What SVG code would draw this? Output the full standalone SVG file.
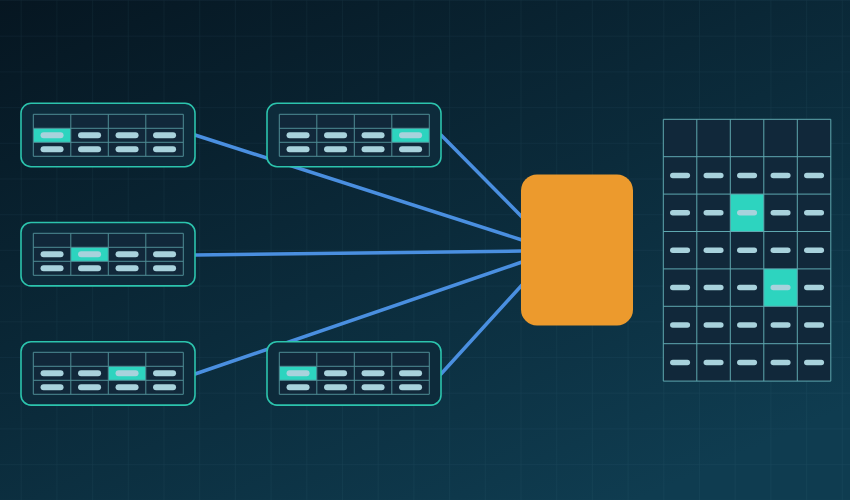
<svg xmlns="http://www.w3.org/2000/svg" xmlns:xlink="http://www.w3.org/1999/xlink" width="850" height="500" viewBox="0 0 850 500">
<style>
.node{fill:#0d2b3b;stroke:#2cc4ad;stroke-width:1.6}
.tbg{fill:#11283a}
.tl{stroke:#4f8c95;stroke-width:1;fill:none}
.pill{fill:#a8d2dc}
.hl{fill:#2dd4bf}
.conn{stroke:#4a8fe0;stroke-width:3.5;stroke-linecap:round;fill:none}
.gl{stroke:#5fa8b0;stroke-width:1;fill:none}
</style>
<defs>
<linearGradient id="bg" x1="0" y1="0" x2="0.75" y2="1">
<stop offset="0" stop-color="#061621"/>
<stop offset="1" stop-color="#0f3c50"/>
</linearGradient>
<pattern id="grid" x="20.7" y="0" width="35.7" height="35.7" patternUnits="userSpaceOnUse">
<path d="M0 0V35.7M0 0H35.7" stroke="#5a9ab0" stroke-opacity="0.12" stroke-width="1" fill="none"/>
</pattern>
<g id="tbg"><rect class="tbg" x="0" y="0" width="150" height="42"/></g>
<g id="tfg">
<path class="tl" d="M0 0H150V42H0ZM0 14H150M0 28H150M37.5 0V42M75 0V42M112.5 0V42"/>
<g class="pill">
<rect x="7.25" y="18" width="23" height="6" rx="3"/><rect x="44.75" y="18" width="23" height="6" rx="3"/><rect x="82.25" y="18" width="23" height="6" rx="3"/><rect x="119.75" y="18" width="23" height="6" rx="3"/>
<rect x="7.25" y="32" width="23" height="6" rx="3"/><rect x="44.75" y="32" width="23" height="6" rx="3"/><rect x="82.25" y="32" width="23" height="6" rx="3"/><rect x="119.75" y="32" width="23" height="6" rx="3"/>
</g>
</g>
<g id="gp"><rect x="6.75" y="15.95" width="20" height="5.5" rx="2.75"/><rect x="40.25" y="15.95" width="20" height="5.5" rx="2.75"/><rect x="73.75" y="15.95" width="20" height="5.5" rx="2.75"/><rect x="107.25" y="15.95" width="20" height="5.5" rx="2.75"/><rect x="140.75" y="15.95" width="20" height="5.5" rx="2.75"/></g>
</defs>
<rect width="850" height="500" fill="url(#bg)"/>
<rect width="850" height="500" fill="url(#grid)"/>

<g id="connectors">
<line class="conn" x1="195" y1="135" x2="522" y2="240"/>
<line class="conn" x1="441" y1="135" x2="522" y2="217"/>
<line class="conn" x1="195" y1="255" x2="522" y2="251"/>
<line class="conn" x1="195" y1="374" x2="522" y2="262"/>
<line class="conn" x1="441" y1="374" x2="522" y2="285"/>
</g>

<g id="node1">
<rect class="node" x="21" y="103.3" width="174" height="63.4" rx="10"/>
<g transform="translate(33.3,114.3)"><use href="#tbg"/><rect class="hl" x="0" y="14" width="37.5" height="14"/><use href="#tfg"/></g>
</g>
<g id="node2">
<rect class="node" x="267" y="103.3" width="174" height="63.4" rx="10"/>
<g transform="translate(279.3,114.3)"><use href="#tbg"/><rect class="hl" x="112.5" y="14" width="37.5" height="14"/><use href="#tfg"/></g>
</g>
<g id="node3">
<rect class="node" x="21" y="222.5" width="174" height="63.4" rx="10"/>
<g transform="translate(33.3,233.3)"><use href="#tbg"/><rect class="hl" x="37.5" y="14" width="37.5" height="14"/><use href="#tfg"/></g>
</g>
<g id="node4">
<rect class="node" x="21" y="341.7" width="174" height="63.4" rx="10"/>
<g transform="translate(33.3,352.3)"><use href="#tbg"/><rect class="hl" x="75" y="14" width="37.5" height="14"/><use href="#tfg"/></g>
</g>
<g id="node5">
<rect class="node" x="267" y="341.7" width="174" height="63.4" rx="10"/>
<g transform="translate(279.3,352.3)"><use href="#tbg"/><rect class="hl" x="0" y="14" width="37.5" height="14"/><use href="#tfg"/></g>
</g>

<g id="processor">
<rect x="521" y="174.5" width="112" height="151" rx="16" fill="#ec9a2d"/>
</g>

<g id="result-grid">
<rect class="tbg" x="663.3" y="119.3" width="167.5" height="261.8"/>
<rect class="hl" x="730.3" y="194.1" width="33.5" height="37.4"/>
<rect class="hl" x="763.8" y="268.9" width="33.5" height="37.4"/>
<path class="gl" d="M663.3 119.3H830.8V381.1H663.3ZM663.3 156.7H830.8M663.3 194.1H830.8M663.3 231.5H830.8M663.3 268.9H830.8M663.3 306.3H830.8M663.3 343.7H830.8M696.8 119.3V381.1M730.3 119.3V381.1M763.8 119.3V381.1M797.3 119.3V381.1"/>
<g class="pill" transform="translate(663.3,156.7)">
<use href="#gp"/>
<use href="#gp" y="37.4"/>
<use href="#gp" y="74.8"/>
<use href="#gp" y="112.2"/>
<use href="#gp" y="149.6"/>
<use href="#gp" y="187"/>
</g>
</g>
</svg>
